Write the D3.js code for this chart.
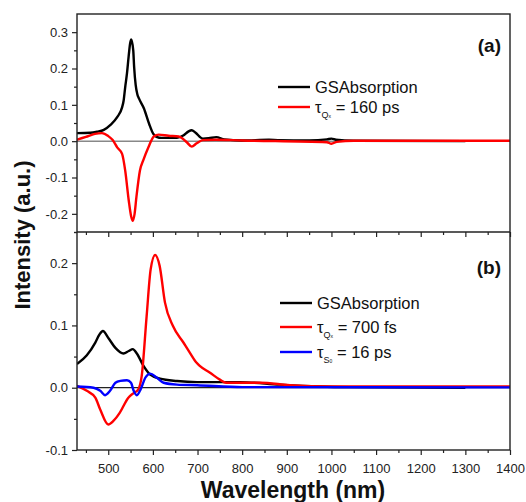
<!DOCTYPE html>
<html>
<head>
<meta charset="utf-8">
<script src="https://cdn.jsdelivr.net/npm/d3@7/dist/d3.min.js"></script>
<style>
  body { margin: 0; background: #fff; }
  svg { font-family: "Liberation Sans", Arial, sans-serif; }
</style>
</head>
<body>
<script>
// panel (a) data
var wlGsaA = [430, 460, 475, 490, 505, 520, 531, 534.5, 538, 542, 545.6, 549, 551.5, 556, 558, 561.5, 565, 569, 580, 591.5, 601, 608, 620, 654, 669, 680, 687, 695, 712, 725, 742, 760, 800, 860, 880, 950, 990, 1000, 1010, 1050, 1300]
var gsaA = [0.022, 0.023, 0.026, 0.031, 0.045, 0.066, 0.093, 0.112, 0.149, 0.187, 0.232, 0.269, 0.28, 0.25, 0.204, 0.154, 0.13, 0.117, 0.09, 0.048, 0.02, 0.012, 0.009, 0.009, 0.016, 0.027, 0.03, 0.024, 0.007, 0.008, 0.011, 0.005, 0.002, 0.004, 0.003, 0.002, 0.005, 0.007, 0.004, 0.001, 0.0]
var wlQA = [430, 450, 470, 486, 500, 510, 520, 531, 538, 546, 551, 555, 559, 563, 571, 579, 590, 602, 613, 635, 658, 676, 687, 698, 712, 740, 800, 990, 1000, 1012, 1050, 1400]
var qA = [0.004, 0.012, 0.02, 0.022, 0.014, 0.003, -0.017, -0.035, -0.081, -0.164, -0.205, -0.219, -0.2, -0.155, -0.081, -0.051, -0.017, 0.013, 0.018, 0.015, 0.013, -0.003, -0.015, -0.006, 0.003, 0.004, 0.002, -0.003, -0.007, -0.002, 0.001, 0.001]

// panel (b) data
var wlGsaB = [430, 452, 471, 480, 488, 501, 516, 534, 546, 555, 564, 579, 594, 616, 654, 699, 795, 884, 974, 1040, 1300]
var gsaB = [0.038, 0.052, 0.0725, 0.085, 0.091, 0.079, 0.064, 0.055, 0.059, 0.062, 0.055, 0.035, 0.021, 0.0145, 0.0107, 0.009, 0.009, 0.005, 0.002, 0.001, 0.0]
var wlQB = [430, 452, 471, 482, 500, 512, 526, 545, 556, 567, 575, 586, 595, 605, 615, 627, 645, 668, 683, 698, 705, 728, 750, 764, 840, 907, 1000, 1400]
var qB = [0.003, -0.005, -0.016, -0.035, -0.059, -0.053, -0.04, -0.016, -0.009, -0.003, 0.019, 0.115, 0.19, 0.213, 0.196, 0.137, 0.099, 0.073, 0.056, 0.040, 0.035, 0.024, 0.013, 0.008, 0.008, 0.004, 0.002, 0.002]
var wlSB = [430, 467, 482, 493, 504, 516, 527, 542, 551, 557, 564, 573, 583, 594, 609, 624, 654, 699, 800, 1400]
var sB = [0.002, 0.0, -0.005, -0.012, -0.005, 0.008, 0.011, 0.012, 0.008, -0.005, -0.012, -0.002, 0.016, 0.0226, 0.016, 0.008, 0.005, 0.004, 0.001, 0.0005]

var xTicks = [500, 600, 700, 800, 900, 1000, 1100, 1200, 1300, 1400]
var xMinor = [450, 550, 650, 750, 850, 950, 1050, 1150, 1250, 1350]
var yTicksA = [-0.2, -0.1, 0.0, 0.1, 0.2, 0.3]
var yMinorA = [-0.25, -0.15, -0.05, 0.05, 0.15, 0.25]
var yTicksB = [-0.1, 0.0, 0.1, 0.2]
var yMinorB = [-0.05, 0.05, 0.15, 0.25]

var w = 526
var h = 502
var left = 77, right = 510, topA = 14, mid = 232, bot = 450

var svg = d3.select("body").append("svg")
    .attr("width", w)
    .attr("height", h)

var x = d3.scaleLinear().domain([430, 1400]).range([left, right])
var yA = d3.scaleLinear().domain([-0.25, 0.35]).range([mid, topA])
var yB = d3.scaleLinear().domain([-0.1, 0.25]).range([bot, mid])

var defs = svg.append("defs")
defs.append("clipPath").attr("id", "clipA").append("rect")
    .attr("x", left).attr("y", topA).attr("width", right - left).attr("height", mid - topA)
defs.append("clipPath").attr("id", "clipB").append("rect")
    .attr("x", left).attr("y", mid).attr("width", right - left).attr("height", bot - mid)

function zip(a, b) {
    return a.map(function (d, i) { return [d, b[i]] })
}

function drawLine(g, y, xs, ys, color) {
    var line = d3.line()
        .x(function (d) { return x(d[0]) })
        .y(function (d) { return y(d[1]) })
        .curve(d3.curveMonotoneX)
    g.append("path")
        .datum(zip(xs, ys))
        .attr("d", line)
        .attr("fill", "none")
        .attr("stroke", color)
        .attr("stroke-width", 2.4)
        .attr("stroke-linejoin", "round")
}

var fmt = function (d) { return d.toFixed(1) }

// y axes
function yAxis(y, major, minor) {
    var g = svg.append("g").attr("transform", "translate(" + left + ",0)")
    g.call(d3.axisLeft(y).tickValues(major).tickFormat(fmt).tickSize(5).tickPadding(4).tickSizeOuter(0))
    g.append("g").call(d3.axisLeft(y).tickValues(minor).tickFormat("").tickSize(3).tickSizeOuter(0))
    g.selectAll(".domain").remove()
    g.selectAll("text").attr("font-size", 13).attr("fill", "#222").attr("font-family", null)
    g.selectAll("line").attr("stroke", "#222").attr("stroke-width", 1.2)
}
yAxis(yA, yTicksA, yMinorA)
yAxis(yB, yTicksB, yMinorB)

// x axes
function xAxis(ypos, labels) {
    var g = svg.append("g").attr("transform", "translate(0," + ypos + ")")
    g.call(d3.axisBottom(x).tickValues(xTicks).tickFormat(labels ? d3.format("d") : "").tickSize(5).tickPadding(9).tickSizeOuter(0))
    g.append("g").call(d3.axisBottom(x).tickValues(xMinor).tickFormat("").tickSize(3).tickSizeOuter(0))
    g.selectAll(".domain").remove()
    g.selectAll("text").attr("font-size", 13).attr("fill", "#222").attr("font-family", null)
    g.selectAll("line").attr("stroke", "#222").attr("stroke-width", 1.2)
}
xAxis(mid, false)
xAxis(bot, true)

// zero lines
svg.append("line").attr("x1", left).attr("x2", right).attr("y1", yA(0)).attr("y2", yA(0))
    .attr("stroke", "#888").attr("stroke-width", 1.5)
svg.append("line").attr("x1", left).attr("x2", right).attr("y1", yB(0)).attr("y2", yB(0))
    .attr("stroke", "#222").attr("stroke-width", 1.2)

var gA = svg.append("g").attr("clip-path", "url(#clipA)")
drawLine(gA, yA, wlGsaA, gsaA, "#000")
drawLine(gA, yA, wlQA, qA, "#ff0000")

var gB = svg.append("g").attr("clip-path", "url(#clipB)")
drawLine(gB, yB, wlGsaB, gsaB, "#000")
drawLine(gB, yB, wlQB, qB, "#ff0000")
drawLine(gB, yB, wlSB, sB, "#0000ff")

// frame
svg.append("rect").attr("x", left).attr("y", topA).attr("width", right - left).attr("height", bot - topA)
    .attr("fill", "none").attr("stroke", "#222").attr("stroke-width", 1.4)
svg.append("line").attr("x1", left).attr("x2", right).attr("y1", mid).attr("y2", mid)
    .attr("stroke", "#222").attr("stroke-width", 1.4)

// legends
function legendItem(lx, ly, color, main, sub, sub2, rest) {
    svg.append("line").attr("x1", lx).attr("x2", lx + 32).attr("y1", ly).attr("y2", ly)
        .attr("stroke", color).attr("stroke-width", 2.4)
    var t = svg.append("text").attr("x", lx + 37).attr("y", ly + 6).attr("font-size", 16.5).attr("fill", "#111")
    t.append("tspan").text(main)
    if (sub) {
        t.append("tspan").attr("font-size", 9).attr("dy", 5).text(sub)
        t.append("tspan").attr("font-size", 5).attr("dy", 0).text(sub2)
        t.append("tspan").attr("dy", -5).text(rest)
    }
}
legendItem(278, 87, "#000", "GSAbsorption")
legendItem(278, 107, "#ff0000", "τ", "Q", "x", " = 160 ps")
legendItem(280, 303, "#000", "GSAbsorption")
legendItem(280, 327, "#ff0000", "τ", "Q", "x", " = 700 fs")
legendItem(280, 352, "#0000ff", "τ", "S", "0", " = 16 ps")

svg.append("text").attr("x", 501).attr("y", 52).attr("text-anchor", "end")
    .attr("font-size", 19).attr("font-weight", "bold").attr("fill", "#111").text("(a)")
svg.append("text").attr("x", 501).attr("y", 274).attr("text-anchor", "end")
    .attr("font-size", 19).attr("font-weight", "bold").attr("fill", "#111").text("(b)")

// axis titles
svg.append("text").attr("transform", "translate(30,235) rotate(-90)").attr("text-anchor", "middle")
    .attr("font-size", 22).attr("font-weight", "bold").attr("fill", "#111").text("Intensity (a.u.)")
svg.append("text").attr("x", 293).attr("y", 498).attr("text-anchor", "middle")
    .attr("font-size", 23).attr("font-weight", "bold").attr("fill", "#111").text("Wavelength (nm)")
</script>
</body>
</html>
